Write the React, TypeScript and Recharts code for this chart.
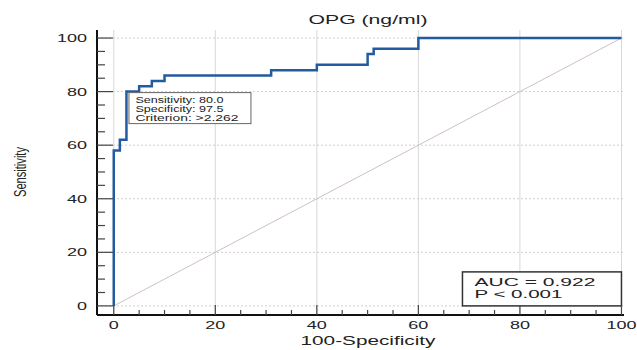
import React from 'react';
import { LineChart, Line, XAxis, YAxis, CartesianGrid, ReferenceDot } from 'recharts';

// ROC curve (100-Specificity, Sensitivity)
const rocX = [0, 0, 1.2, 1.2, 2.5, 2.5, 5, 5, 7.5, 7.5, 10, 10, 31, 31, 40, 40, 50, 50, 51.2, 51.2, 60, 60, 100];
const rocY = [0, 58, 58, 62, 62, 80, 80, 82, 82, 84, 84, 86, 86, 88, 88, 90, 90, 94, 94, 96, 96, 100, 100];
const diagX = [0, 100];
const diagY = [0, 100];

const axisTicks = [0, 5, 10, 15, 20, 25, 30, 35, 40, 45, 50, 55, 60, 65, 70, 75, 80, 85, 90, 95, 100];
const gridValues = [0, 20, 40, 60, 80, 100];

const cutoffPoint = { x: 2.5, y: 80 };
const cutoffLines = ['Sensitivity: 80.0', 'Specificity: 97.5', 'Criterion: >2.262'];
const cutoffWidths = [88, 88, 103];
const aucLines = ['AUC = 0.922', 'P < 0.001'];
const aucWidths = [121, 88];

const rocData = rocX.map((x, i) => ({ x, y: rocY[i] }));
const diagData = diagX.map((x, i) => ({ x, y: diagY[i] }));

const FONT = '"Liberation Sans", Arial, sans-serif';

// stretched text, the source image is wide
const digitWidth = (v: number) => String(v).length * 10;

const YTick = (props: any) => {
  const { x, y, payload } = props;
  const v = payload.value;
  const major = v % 20 === 0;
  return (
    <g>
      <line x1={x} x2={x + (major ? 16 : 8)} y1={y} y2={y} stroke="#444" strokeWidth={1.2} />
      {major && (
        <text x={x - 10} y={y + 4} textAnchor="end" fontSize={11.5} fontFamily={FONT} fill="#222"
          textLength={digitWidth(v)} lengthAdjust="spacingAndGlyphs">
          {v}
        </text>
      )}
    </g>
  );
};

const XTick = (props: any) => {
  const { x, y, payload } = props;
  const v = payload.value;
  const major = v % 20 === 0;
  return (
    <g>
      <line x1={x} x2={x} y1={y} y2={y - (major ? 10 : 5)} stroke="#444" strokeWidth={1.2} />
      {major && (
        <text x={x} y={y + 14} textAnchor="middle" fontSize={11.5} fontFamily={FONT} fill="#222"
          textLength={digitWidth(v)} lengthAdjust="spacingAndGlyphs">
          {v}
        </text>
      )}
    </g>
  );
};

const CutoffBox = (props: any) => {
  const { cx, cy } = props;
  return (
    <g>
      <rect x={cx + 2.5} y={cy + 1} width={122} height={31} fill="#fff" stroke="#666" strokeWidth={1} />
      {cutoffLines.map((t, i) => (
        <text key={t} x={cx + 9} y={cy + 11.5 + i * 8.8} fontSize={8.5} fontFamily={FONT} fill="#222"
          textLength={cutoffWidths[i]} lengthAdjust="spacingAndGlyphs">
          {t}
        </text>
      ))}
    </g>
  );
};

const AucBox = (props: any) => {
  const { cx, cy } = props;
  return (
    <g>
      <rect x={cx - 159} y={cy - 34} width={159} height={34} fill="#fff" stroke="#333" strokeWidth={1.5} />
      {aucLines.map((t, i) => (
        <text key={t} x={cx - 147} y={cy - 20 + i * 12} fontSize={11.5} fontFamily={FONT} fill="#222"
          textLength={aucWidths[i]} lengthAdjust="spacingAndGlyphs">
          {t}
        </text>
      ))}
    </g>
  );
};

export default function App() {
  return (
    <div style={{ position: 'absolute', left: 0, top: 0, width: 637, height: 350, background: '#fff' }}>
      <LineChart width={637} height={350} margin={{ top: 30, right: 13, bottom: 0, left: 0 }}>
        <CartesianGrid horizontal={false} verticalValues={gridValues} stroke="#d8d8d8" strokeWidth={1} />
        <CartesianGrid vertical={false} horizontalValues={gridValues} stroke="#cfcfcf" strokeDasharray="2 2" />
        <XAxis
          dataKey="x"
          type="number"
          domain={[-3.3, 100.5]}
          ticks={axisTicks}
          interval={0}
          height={35}
          tickSize={0}
          tickMargin={0}
          tickLine={false}
          tick={<XTick />}
          axisLine={{ stroke: '#111', strokeWidth: 2 }}
          allowDataOverflow
        />
        <YAxis
          dataKey="y"
          type="number"
          domain={[-3.4, 103]}
          ticks={axisTicks}
          interval={0}
          width={97}
          tickSize={0}
          tickMargin={0}
          tickLine={false}
          tick={<YTick />}
          axisLine={{ stroke: '#111', strokeWidth: 2 }}
          allowDataOverflow
        />
        <Line data={diagData} dataKey="y" stroke="#c9b9b9" strokeWidth={0.9} dot={false} isAnimationActive={false} />
        <Line data={rocData} dataKey="y" stroke="#235ba0" strokeWidth={2.5} dot={false} isAnimationActive={false} />
        <ReferenceDot x={cutoffPoint.x} y={cutoffPoint.y} r={0} shape={<CutoffBox />} />
        <ReferenceDot x={100} y={0} r={0} shape={<AucBox />} />
      </LineChart>
      <svg width={637} height={350} style={{ position: 'absolute', left: 0, top: 0, pointerEvents: 'none' }}>
        <text x={368} y={24} textAnchor="middle" fontSize={12.5} fontFamily={FONT} fill="#222"
          textLength={119} lengthAdjust="spacingAndGlyphs">
          OPG (ng/ml)
        </text>
        <text x={368} y={345} textAnchor="middle" fontSize={12.5} fontFamily={FONT} fill="#222"
          textLength={135} lengthAdjust="spacingAndGlyphs">
          100-Specificity
        </text>
        <text x={26} y={172} textAnchor="middle" fontSize={16} fontFamily={FONT} fill="#222"
          transform="rotate(-90 26 172)" textLength={50} lengthAdjust="spacingAndGlyphs">
          Sensitivity
        </text>
      </svg>
    </div>
  );
}
